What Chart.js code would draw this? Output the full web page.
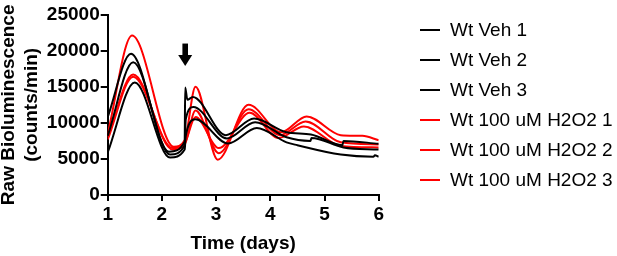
<!DOCTYPE html>
<html>
<head>
<meta charset="utf-8">
<script src="https://cdn.jsdelivr.net/npm/chart.js@4/dist/chart.umd.min.js"></script>
<style>
  html, body { margin: 0; padding: 0; background: #fff; }
  #wrap { width: 617px; height: 256px; position: relative; }
</style>
</head>
<body>
<div id="wrap"><canvas id="c" width="617" height="256"></canvas></div>
<script>
// ---- data (time in days, raw bioluminescence in counts/min) ----
const seriesLabels = ['Wt Veh 1', 'Wt Veh 2', 'Wt Veh 3', 'Wt 100 uM H2O2 1', 'Wt 100 uM H2O2 2', 'Wt 100 uM H2O2 3'];

const veh1Time = [1.0, 1.43, 2.13, 2.42, 2.43, 2.47, 2.57, 3.18, 3.7, 4.3, 4.75, 5.33, 5.35, 6.0];
const veh1Vals = [10800, 19600, 6000, 7400, 14900, 13200, 13600, 8300, 10600, 8700, 8400, 6900, 7500, 7100];

const veh2Time = [1.0, 1.47, 2.15, 2.42, 2.44, 2.58, 3.2, 3.72, 4.3, 4.74, 4.76, 5.35, 6.0];
const veh2Vals = [8200, 18400, 5600, 6900, 10500, 12200, 7850, 10100, 8000, 7500, 7900, 6600, 6300];

const veh3Time = [1.0, 1.5, 2.15, 2.42, 2.44, 2.62, 3.22, 3.75, 4.3, 4.5, 5.3, 5.9, 5.93, 6.0];
const veh3Vals = [5900, 15600, 5200, 6300, 8200, 10500, 7150, 9300, 7300, 6900, 5600, 5300, 5500, 5300];

const h2o2Time1 = [1.0, 1.45, 2.22, 2.42, 2.62, 3.03, 3.6, 4.2, 4.67, 5.3, 5.7, 6.0];
const h2o2Vals1 = [8500, 22100, 6700, 7600, 15000, 4900, 12500, 8700, 10900, 8300, 8200, 7600];

const h2o2Time2 = [1.0, 1.47, 2.2, 2.42, 2.62, 3.05, 3.6, 4.18, 4.65, 5.3, 6.0];
const h2o2Vals2 = [8000, 16700, 6300, 7000, 11700, 5800, 11900, 8300, 10200, 7300, 7000];

const h2o2Time3 = [1.0, 1.47, 2.2, 2.42, 2.62, 3.05, 3.62, 4.15, 4.62, 5.3, 6.0];
const h2o2Vals3 = [7700, 16400, 6500, 7200, 10800, 6500, 11400, 7900, 9500, 6800, 6600];

const xTicks = [1, 2, 3, 4, 5, 6];
const yTicks = [0, 5000, 10000, 15000, 20000, 25000];

// treatment arrow (day, top value, tip value)
const arrowDay = 2.43;
const arrowTop = 21000;
const arrowTip = 17900;

// ---- styles ----
const FONT = "'Liberation Sans', Arial, Helvetica, sans-serif";
const BLACK = '#000000';
const RED = '#ff0000';

function pts(t, v) { return t.map((x, i) => ({ x: x, y: v[i] })); }

const seriesData = [
  pts(veh1Time, veh1Vals), pts(veh2Time, veh2Vals), pts(veh3Time, veh3Vals),
  pts(h2o2Time1, h2o2Vals1), pts(h2o2Time2, h2o2Vals2), pts(h2o2Time3, h2o2Vals3)
];
const seriesColors = [BLACK, BLACK, BLACK, RED, RED, RED];

const datasets = seriesData.map((d, i) => ({
  label: seriesLabels[i],
  data: d,
  borderColor: seriesColors[i],
  backgroundColor: seriesColors[i],
  borderWidth: 2,
  pointRadius: 0,
  fill: false,
  cubicInterpolationMode: 'monotone'
}));

const arrowPlugin = {
  id: 'arrow',
  afterDatasetsDraw(chart) {
    const { ctx, scales } = chart;
    const x = scales.x.getPixelForValue(arrowDay);
    const y0 = scales.y.getPixelForValue(arrowTop);
    const y1 = scales.y.getPixelForValue(arrowTip);
    const headLen = 11, headHalf = 7, shaftHalf = 2.8;
    ctx.save();
    ctx.fillStyle = BLACK;
    ctx.fillRect(x - shaftHalf, y0, shaftHalf * 2, (y1 - headLen) - y0 + 0.5);
    ctx.beginPath();
    ctx.moveTo(x - headHalf, y1 - headLen);
    ctx.lineTo(x + headHalf, y1 - headLen);
    ctx.lineTo(x, y1);
    ctx.closePath();
    ctx.fill();
    ctx.restore();
  }
};

const legendPlugin = {
  id: 'sideLegend',
  afterDraw(chart) {
    const { ctx } = chart;
    const lineX0 = 420, lineX1 = 440, textX = 450, rowY0 = 30, rowStep = 30;
    ctx.save();
    ctx.font = '19px ' + FONT;
    ctx.textBaseline = 'middle';
    ctx.textAlign = 'left';
    chart.data.datasets.forEach((ds, i) => {
      const y = rowY0 + i * rowStep;
      ctx.strokeStyle = ds.borderColor;
      ctx.lineWidth = 2;
      ctx.beginPath();
      ctx.moveTo(lineX0, y);
      ctx.lineTo(lineX1, y);
      ctx.stroke();
      ctx.fillStyle = '#000';
      ctx.fillText(ds.label, textX, y + 1);
    });
    ctx.restore();
  }
};

new Chart(document.getElementById('c'), {
  type: 'line',
  data: { datasets: datasets },
  options: {
    responsive: false,
    animation: false,
    devicePixelRatio: 1,
    layout: { padding: { top: 14.7, right: 238.3, bottom: 0, left: 0 } },
    plugins: { legend: { display: false }, tooltip: { enabled: false } },
    scales: {
      x: {
        type: 'linear',
        min: 1, max: 6,
        afterBuildTicks: s => { s.ticks = xTicks.map(v => ({ value: v })); },
        afterFit: s => { s.height = 61; },
        grid: { drawOnChartArea: false, drawTicks: true, tickLength: 6, color: BLACK, lineWidth: 2 },
        border: { display: true, color: BLACK, width: 2 },
        ticks: { color: BLACK, padding: 2, font: { family: FONT, size: 19, weight: 'bold' }, callback: v => String(v) },
        title: { display: true, text: 'Time (days)', color: BLACK, padding: { top: 0, bottom: 1 },
                 font: { family: FONT, size: 19, weight: 'bold', lineHeight: 1.2 } }
      },
      y: {
        type: 'linear',
        min: 0, max: 25000,
        afterBuildTicks: s => { s.ticks = yTicks.map(v => ({ value: v })); },
        afterFit: s => { s.width = 107.7; },
        grid: { drawOnChartArea: false, drawTicks: true, tickLength: 7, color: BLACK, lineWidth: 2 },
        border: { display: true, color: BLACK, width: 2 },
        ticks: { color: BLACK, padding: 1, font: { family: FONT, size: 19, weight: 'bold', lineHeight: 1.2 }, callback: v => String(v) },
        title: { display: true, text: ['Raw Bioluminescence', '(counts/min)'], color: BLACK, padding: { top: -3.5, bottom: 0 },
                 font: { family: FONT, size: 19, weight: 'bold', lineHeight: 1.25 } }
      }
    }
  },
  plugins: [arrowPlugin, legendPlugin]
});
</script>
</body>
</html>
